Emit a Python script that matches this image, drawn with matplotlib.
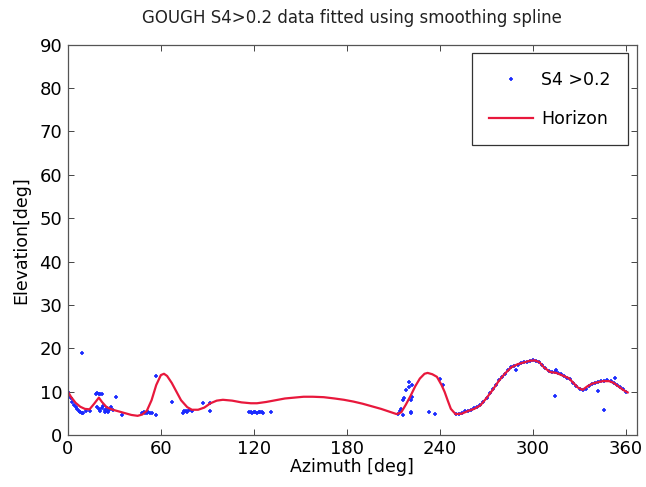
import numpy as np
import matplotlib
matplotlib.use("Agg")
import matplotlib.pyplot as plt

plt.rcParams['font.family'] = ['DejaVu Sans']

# S4 > 0.2 observations (azimuth, elevation in degrees)
s4_az = [0, 1, 2, 3, 4, 5, 6, 7, 8, 9, 10, 9, 14, 12,
         18, 19, 20, 21, 22, 19, 20, 21, 22, 23, 24, 25, 26, 27, 28, 29, 24, 26,
         31, 35, 48, 49, 50, 51, 52, 53, 54, 57, 57,
         67, 74, 75, 76, 77, 78, 80, 87, 92, 92,
         117, 118, 119, 120, 121, 122, 123, 124, 125, 126, 131,
         213, 214, 215, 216, 216, 217, 218, 220, 220, 221, 221, 222, 222, 221,
         233, 237, 242, 240,
         250, 252, 254, 256, 258, 260, 262, 264, 266, 268, 270, 272, 274, 276, 278,
         280, 282, 284, 286, 288, 289, 290, 292, 294, 296, 298, 300, 302, 304, 306,
         308, 310, 312, 314, 315, 316, 318, 320, 322, 324, 326, 328, 330, 332, 334,
         336, 338, 340, 342, 344, 346, 348, 350, 352, 354, 356, 358, 360,
         314, 346, 342, 353]
s4_el = [10.0, 9.0, 8.5, 7.5, 7.0, 6.5, 6.0, 5.5, 5.2, 5.0, 5.0, 19.0, 5.6, 5.4,
         9.5, 9.6, 9.5, 9.5, 9.4, 6.5, 6.0, 5.6, 6.2, 6.6, 5.8, 6.2, 5.6, 6.0, 6.4, 5.8, 5.2, 5.3,
         8.8, 4.6, 5.1, 5.2, 5.0, 5.1, 5.2, 5.0, 5.1, 4.6, 13.6,
         7.7, 5.0, 5.4, 5.6, 5.2, 5.8, 5.6, 7.3, 7.3, 5.4,
         5.2, 5.2, 5.1, 5.2, 5.2, 5.1, 5.2, 5.2, 5.2, 5.1, 5.2,
         4.8, 5.5, 6.0, 4.7, 8.0, 8.5, 10.3, 11.0, 12.3, 8.0, 5.0, 8.8, 11.6, 5.3,
         5.3, 4.8, 11.5, 13.0,
         4.9, 4.8, 5.0, 5.4, 5.6, 5.8, 6.1, 6.4, 6.9, 7.6, 8.4, 9.6, 10.5, 11.5, 12.6,
         13.3, 14.1, 14.9, 15.6, 15.8, 15.0, 16.2, 16.5, 16.8, 16.8, 17.1, 17.3, 17.0, 16.8, 16.2,
         15.4, 14.8, 14.5, 14.6, 14.9, 14.2, 14.0, 13.6, 13.1, 12.8, 12.0, 11.3, 10.5, 10.3, 10.6,
         11.2, 11.8, 12.0, 12.2, 12.4, 12.5, 12.6, 12.4, 12.0, 11.6, 11.0, 10.5, 9.8,
         9.0, 5.8, 10.2, 13.2]

# smoothing-spline horizon, read along azimuth
hz_az = [0, 2, 5, 8, 11, 14, 17, 20, 22, 25, 29, 33, 37, 41, 45, 48, 51, 54, 57,
         60, 62, 64, 67, 70, 73, 77, 80, 84, 88, 92, 96, 100, 106, 112, 118, 122,
         128, 134, 140, 146, 152, 158, 165, 172, 178, 184, 190, 196, 202, 207, 212,
         215, 218, 221, 224, 227, 230, 232, 235, 238, 241, 243, 245, 247, 250, 254,
         258, 262, 266, 270, 274, 278, 282, 286, 290, 294, 298, 301, 304, 307, 311,
         315, 319, 323, 326, 329, 332, 335, 338, 341, 345, 349, 352, 355, 358, 361]
hz_el = [10.0, 8.8, 7.4, 6.5, 6.0, 5.9, 7.2, 8.6, 7.6, 6.4, 5.8, 5.4, 5.0, 4.6, 4.4,
         4.7, 5.6, 8.0, 11.5, 13.8, 14.1, 13.6, 12.0, 10.0, 8.0, 6.4, 5.8, 5.8, 6.3,
         7.3, 7.9, 8.1, 7.9, 7.5, 7.3, 7.3, 7.6, 8.0, 8.4, 8.6, 8.8, 8.8, 8.7, 8.4,
         8.1, 7.7, 7.2, 6.6, 6.0, 5.4, 4.8, 5.2, 7.0, 9.0, 11.2, 13.0, 14.1, 14.3,
         14.0, 13.4, 11.5, 9.9, 7.9, 6.0, 4.8, 4.9, 5.5, 6.0, 6.8, 8.5, 10.4, 12.5,
         14.2, 15.6, 16.3, 16.7, 17.1, 17.2, 16.8, 15.6, 14.5, 14.3, 13.7, 13.1, 12.0,
         10.9, 10.4, 11.2, 11.8, 12.1, 12.4, 12.4, 12.0, 11.2, 10.4, 9.8]

fig = plt.figure(figsize=(6.46, 4.87), dpi=100)
ax = fig.add_axes([0.105, 0.107, 0.881, 0.801])

ax.plot(s4_az, s4_el, '+', color='#1a2aff', markersize=3.5, markeredgewidth=1.2,
        label='S4 >0.2')
ax.plot(hz_az, hz_el, '-', color='#e8183c', linewidth=1.6, label='Horizon')

ax.set_xlim(0, 367)
ax.set_ylim(0, 90)
ax.set_xticks(np.arange(0, 361, 60))
ax.set_yticks(np.arange(0, 91, 10))
ax.tick_params(direction='in', top=True, right=True, labelsize=13, length=4,
               width=0.7, color='#444444', pad=4)
for s in ax.spines.values():
    s.set_color('#555555')
    s.set_linewidth(0.9)

ax.set_xlabel('Azimuth [deg]', fontsize=12.5, labelpad=0)
ax.set_ylabel('Elevation[deg]', fontsize=12.5, labelpad=7)
ax.set_title('GOUGH S4>0.2 data fitted using smoothing spline', fontsize=12,
             pad=16, color='#222222')

leg = ax.legend(loc='upper right', fontsize=12.5, fancybox=False, framealpha=1,
                edgecolor='#333333', borderpad=1.0, labelspacing=1.2,
                handlelength=2.5, handletextpad=0.5, borderaxespad=0.5)
leg.get_frame().set_linewidth(0.9)

fig.savefig('out.png', dpi=100)
